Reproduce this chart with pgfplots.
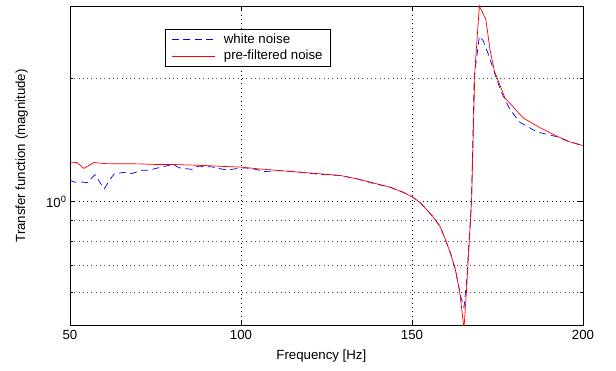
\documentclass[border=0pt]{standalone}
\usepackage{pgfplots}
\pgfplotsset{compat=1.18}
\usepackage{fontspec}
\setmainfont{Liberation Sans}
\begin{document}
\begin{tikzpicture}
\begin{axis}[
  scale only axis,
  width=513bp, height=319bp,
  xmin=50, xmax=200, ymin=0.5, ymax=3,
  ymode=log,
  /pgf/number format/assume math mode=true,
  xtick={50,100,150,200},
  ytick={1}, yticklabels={10\textsuperscript{0}},
  minor ytick={0.6,0.7,0.8,0.9,2},
  grid=both,
  major grid style={black, line width=0.4bp, dash pattern=on 0.8bp off 3.5bp},
  minor grid style={black!70, line width=0.4bp, dash pattern=on 0.8bp off 3.5bp},
  axis line style={black, line width=0.8bp},
  tick style={black, line width=0.6bp},
  major tick length=5bp, minor tick length=3bp,
  tick align=inside,
  tick label style={font=\fontsize{13.3}{16}\selectfont},
  xticklabel style={yshift=-2bp},
  xlabel={Frequency [Hz]},
  ylabel={Transfer function (magnitude)},
  every axis x label/.style={at={(axis description cs:0.49,-0.097)}, anchor=center, font=\fontsize{13.3}{16}\selectfont},
  every axis y label/.style={at={(axis description cs:-0.094,0.53)}, anchor=center, rotate=90, font=\fontsize{13.3}{16}\selectfont},
  legend style={at={(axis description cs:0.185,0.928)}, anchor=north west,
    draw=black, line width=0.6bp, fill=white,
    font=\fontsize{13.3}{16}\selectfont,
    inner xsep=6bp, inner ysep=3bp, row sep=1bp},
  legend cell align=left,
  legend image code/.code={\draw[#1] (0bp,0bp) -- (43bp,0bp);},
]
\addplot[blue, line width=0.7bp, dash pattern=on 7bp off 4.5bp] coordinates {
(50,1.127) (51.5,1.115) (53,1.118) (55,1.111) (57.3,1.164) (60,1.074)
(61.7,1.132) (63,1.171) (66.7,1.18) (68,1.17) (71,1.193) (73,1.193)
(77.8,1.22) (80,1.232) (82,1.209) (85.7,1.198) (87.4,1.22) (91.5,1.215)
(96,1.193) (100,1.209) (103,1.205) (107,1.184) (111,1.19) (117,1.18)
(123,1.165) (129,1.158) (134,1.136) (138.6,1.108) (143.6,1.084)
(147.4,1.054) (150.3,1.024) (152.3,0.996) (154.3,0.956) (156.3,0.915)
(158.2,0.87) (159.6,0.815) (161.2,0.75) (162.6,0.688) (164.3,0.585)
(165.2,0.552) (166,0.644) (167.4,1.0) (168.2,2.02) (169.7,2.53)
(170.8,2.47) (172.3,2.29) (174.3,2.04) (176,1.86) (178.6,1.68)
(181.6,1.56) (186.5,1.48) (192.3,1.44) (196,1.40) (200,1.37)
};
\addlegendentry{\hspace*{7bp}white noise}
\addplot[red, line width=0.7bp] coordinates {
(50,1.248) (52,1.245) (54.1,1.205) (57,1.246) (60,1.238) (65,1.237)
(70,1.236) (75,1.232) (80,1.232) (85,1.228) (90,1.224) (95,1.218)
(100,1.214) (105,1.202) (111,1.191) (117,1.18) (123,1.169) (129,1.158)
(134,1.136) (138.6,1.111) (143.6,1.084) (147.4,1.054) (150.3,1.024)
(152.3,0.996) (154.3,0.956) (156.3,0.915) (158.2,0.87) (159.6,0.815)
(161.2,0.75) (162.6,0.688) (164,0.598) (165.2,0.49) (166,0.62)
(167.4,1.0) (168.4,2.10) (169.7,3.0) (171.6,2.78) (172.8,2.35)
(174.1,2.08) (177.2,1.79) (182.5,1.60) (187.4,1.515) (192.3,1.445)
(196,1.40) (200,1.37)
};
\addlegendentry{\hspace*{7bp}pre-filtered noise}
\end{axis}
\begin{axis}[
  scale only axis,
  width=513bp, height=319bp,
  xmin=50, xmax=200, ymin=0.5, ymax=3,
  ymode=log, hide x axis, axis y line*=right,
  ytick=\empty, yticklabels={},
  minor ytick={1.1,1.2,1.3,1.4,1.5,1.6,1.7,1.8,1.9,2.1,2.2,2.3,2.4,2.5,2.6,2.7,2.8,2.9},
  minor tick length=3bp, tick align=inside,
  axis line style={black, line width=0.8bp},
  tick style={black, line width=0.6bp},
]
\end{axis}
\useasboundingbox (-70bp,-46bp) rectangle (546bp,325bp);
\end{tikzpicture}
\end{document}
